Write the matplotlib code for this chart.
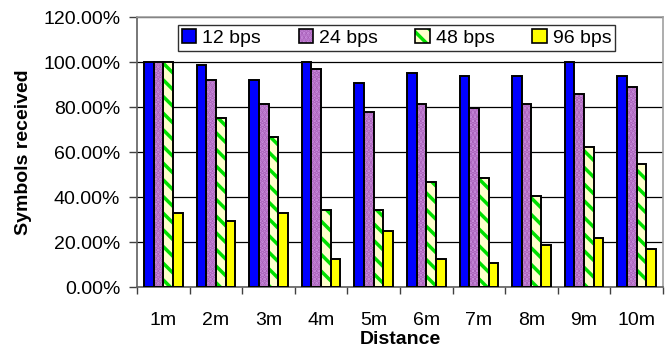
import matplotlib.pyplot as plt
import numpy as np
from matplotlib.patches import Patch
from matplotlib.ticker import FuncFormatter, MultipleLocator

plt.rcParams['font.family'] = ['Liberation Sans', 'DejaVu Sans']
plt.rcParams['hatch.linewidth'] = 2.5

distances = ['1m', '2m', '3m', '4m', '5m', '6m', '7m', '8m', '9m', '10m']
series_names = ['12 bps', '24 bps', '48 bps', '96 bps']

# symbols received (%) per bit rate
rate_12 = [100.0, 98.5, 92.1, 100.0, 90.6, 95.1, 93.9, 93.9, 100.0, 93.9]
rate_24 = [100.0, 92.1, 81.3, 96.9, 78.0, 81.3, 79.5, 81.3, 85.9, 88.9]
rate_48 = [100.0, 75.0, 66.8, 34.2, 34.2, 46.5, 48.3, 40.6, 62.4, 54.5]
rate_96 = [32.7, 29.4, 32.7, 12.3, 25.0, 12.3, 10.7, 18.6, 21.6, 16.8]

# (face colour, hatch colour, hatch pattern)
styles = [
    ('#0000FF', None, None),
    ('#CC90E0', '#A860B8', '....'),
    ('#FFFFCC', '#00E000', '\\\\'),
    ('#FFFF00', None, None),
]

fig = plt.figure(figsize=(6.7, 3.5), dpi=100)
ax = fig.add_axes([0.2045, 0.18, 0.785, 0.771])

x = np.arange(len(distances))
width = 0.183
handles = []
for i, (vals, (fc, hc, hatch)) in enumerate(zip([rate_12, rate_24, rate_48, rate_96], styles)):
    pos = x + (i - 1.5) * width
    if hatch:
        ax.bar(pos, vals, width, color=fc, edgecolor=hc, hatch=hatch, linewidth=0, zorder=2)
        fill = Patch(facecolor=fc, edgecolor=hc, hatch=hatch, linewidth=0)
    else:
        ax.bar(pos, vals, width, color=fc, linewidth=0, zorder=2)
        fill = Patch(facecolor=fc, linewidth=0)
    ax.bar(pos, vals, width, fill=False, edgecolor='black', linewidth=1.4, zorder=3)
    handles.append((fill, Patch(fill=False, edgecolor='black', linewidth=1.2)))

ax.set_xlim(-0.5, len(distances) - 0.5)
ax.set_ylim(0, 120)
ax.yaxis.set_major_locator(MultipleLocator(20))
ax.yaxis.set_major_formatter(FuncFormatter(lambda v, p: '%.2f%%' % v))
ax.grid(axis='y', color='black', linewidth=0.9, zorder=1)
ax.set_axisbelow(True)

# group separators as major ticks, names on minor ticks
ax.set_xticks(np.arange(-0.5, len(distances)), [''] * (len(distances) + 1))
ax.set_xticks(x, distances, minor=True)
ax.tick_params(axis='x', which='major', length=5, width=1, color='#404040')
ax.tick_params(axis='x', which='minor', length=0, pad=18)
ax.tick_params(axis='y', length=6, width=1, color='#404040', pad=6)
ax.tick_params(which='both', labelsize=14)

for side in ['left', 'bottom']:
    ax.spines[side].set_color('#606060')
    ax.spines[side].set_linewidth(1.2)
for side in ['top', 'right']:
    ax.spines[side].set_color('#A0A0A0')
    ax.spines[side].set_linewidth(1.2)

ax.set_xlabel('Distance', fontsize=14, fontweight='bold', va='center')
ax.xaxis.set_label_coords(0.5, -0.195)
ax.set_ylabel('Symbols received', fontsize=14, fontweight='bold', labelpad=8)

leg = ax.legend(handles, series_names, ncol=4, loc='center',
                bbox_to_anchor=(0.059, 0.859, 0.869, 0.126), mode='expand',
                fontsize=14, frameon=True, fancybox=False, framealpha=1,
                edgecolor='#303030', handlelength=0.75, handleheight=0.75,
                handletextpad=0.3, borderpad=0.2)
leg.get_frame().set_linewidth(1.0)
leg.set_zorder(5)

fig.savefig('out.png', dpi=100)
